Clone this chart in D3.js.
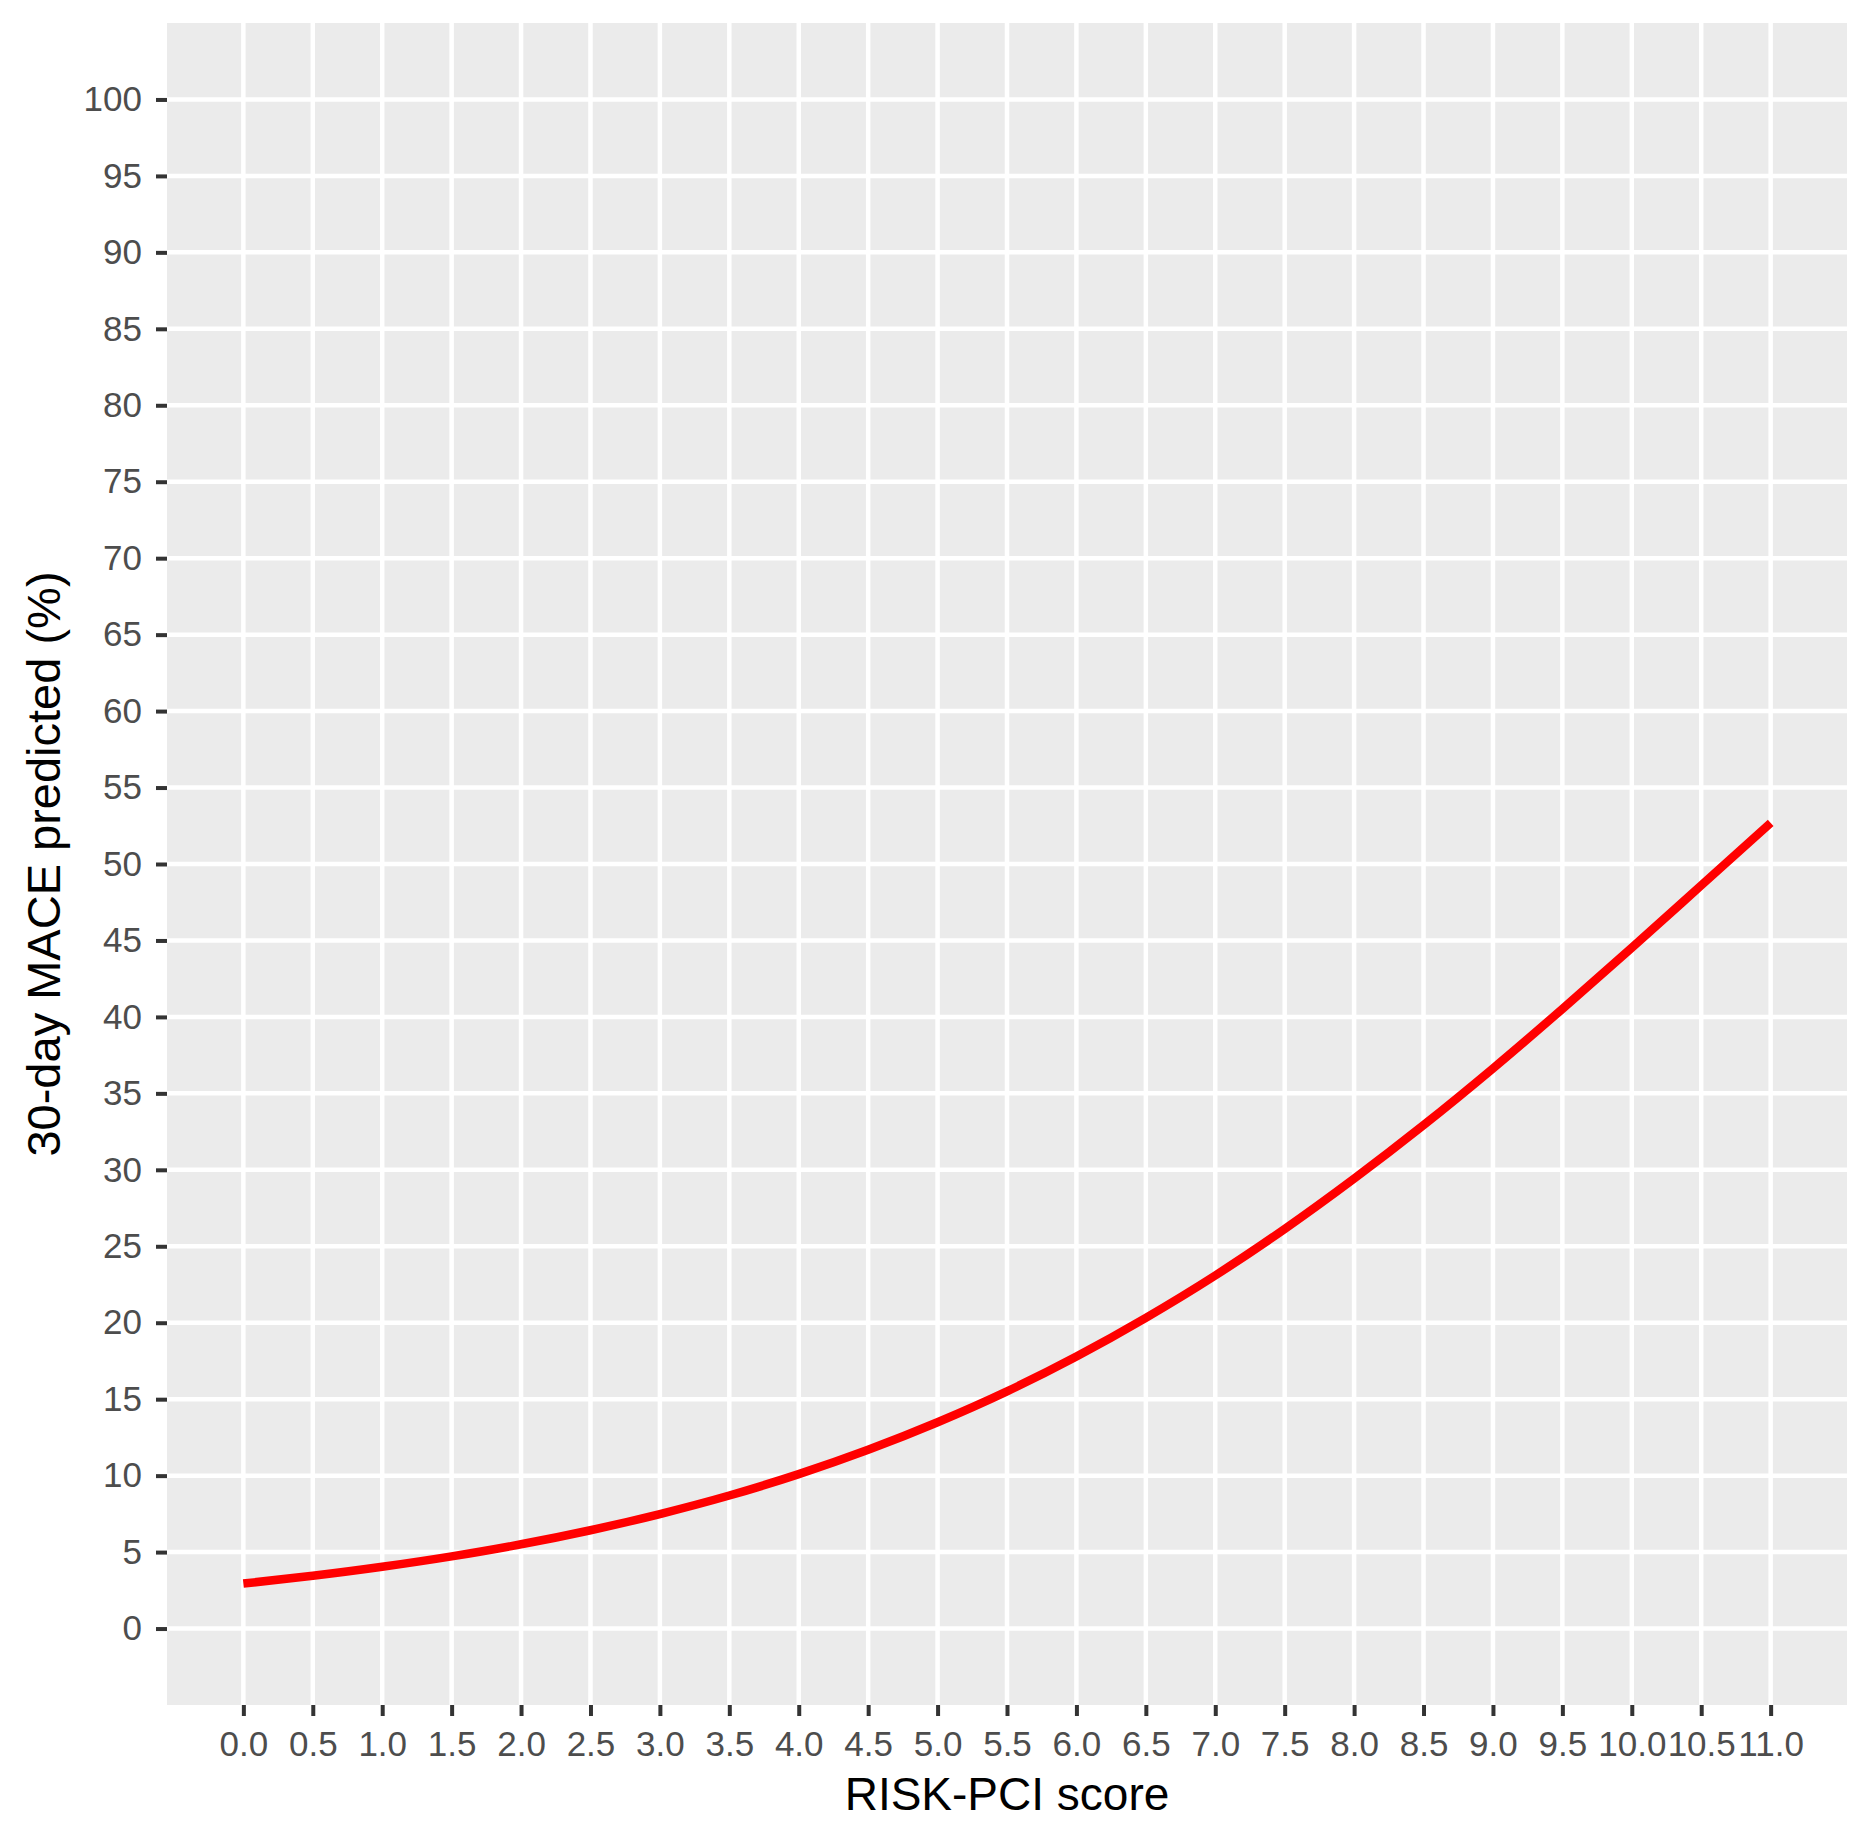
<!DOCTYPE html>
<html>

<head>
  <title>RISK-PCI score</title>
  <meta charset="utf-8">
  <style>
    body { margin: 0; background: #fff; }
    .chart-container svg { display: block; font-family: 'Liberation Sans', Arial, sans-serif; }
  </style>
</head>

<body>
  <div class='chart-container'></div>
  <script src="https://cdn.jsdelivr.net/npm/d3@7/dist/d3.min.js"></script>
  <script>
    // values, one per half point of score
    var scores = [0.0, 0.5, 1.0, 1.5, 2.0, 2.5, 3.0, 3.5, 4.0, 4.5, 5.0, 5.5,
      6.0, 6.5, 7.0, 7.5, 8.0, 8.5, 9.0, 9.5, 10.0, 10.5, 11.0];
    var maceValues = [2.94, 3.45, 4.04, 4.72, 5.51, 6.43, 7.49, 8.70, 10.10, 11.69, 13.49, 15.51,
      17.79, 20.32, 23.09, 26.13, 29.42, 32.92, 36.63, 40.52, 44.52, 48.60, 52.69];

    var xTicks = scores;
    var xTickLabels = ['0.0', '0.5', '1.0', '1.5', '2.0', '2.5', '3.0', '3.5', '4.0', '4.5', '5.0', '5.5',
      '6.0', '6.5', '7.0', '7.5', '8.0', '8.5', '9.0', '9.5', '10.0', '10.5', '11.0'];
    var yTicks = [0, 5, 10, 15, 20, 25, 30, 35, 40, 45, 50, 55, 60, 65, 70, 75, 80, 85, 90, 95, 100];

    var xTitle = 'RISK-PCI score';
    var yTitle = '30-day MACE predicted (%)';

    var totalWidth = 1873, totalHeight = 1830;
    var margin = { top: 23, right: 26, bottom: 125, left: 167 };
    var width = totalWidth - margin.left - margin.right;
    var height = totalHeight - margin.top - margin.bottom;

    var data = scores.map(function (s, i) { return { x: s, y: maceValues[i] }; });

    // ggplot style 5% expansion on both axes
    var x = d3.scaleLinear().domain([-0.55, 11.55]).range([0, width]);
    var y = d3.scaleLinear().domain([-5, 105]).range([height, 0]);

    var svg = d3.select('.chart-container').append('svg')
      .attr('width', totalWidth)
      .attr('height', totalHeight);

    var g = svg.append('g')
      .attr('transform', 'translate(' + margin.left + ',' + margin.top + ')');

    // panel
    g.append('rect')
      .attr('width', width)
      .attr('height', height)
      .attr('fill', '#ebebeb');

    g.append('g').attr('class', 'grid-x')
      .selectAll('line').data(xTicks).enter().append('line')
      .attr('x1', function (d) { return x(d); })
      .attr('x2', function (d) { return x(d); })
      .attr('y1', 0).attr('y2', height)
      .attr('stroke', '#fff').attr('stroke-width', 4.5);

    g.append('g').attr('class', 'grid-y')
      .selectAll('line').data(yTicks).enter().append('line')
      .attr('y1', function (d) { return y(d); })
      .attr('y2', function (d) { return y(d); })
      .attr('x1', 0).attr('x2', width)
      .attr('stroke', '#fff').attr('stroke-width', 4.5);

    // axes
    var xAxis = d3.axisBottom(x)
      .tickValues(xTicks)
      .tickFormat(function (d, i) { return xTickLabels[i]; })
      .tickSize(11)
      .tickPadding(14);

    var yAxis = d3.axisLeft(y)
      .tickValues(yTicks)
      .tickSize(11)
      .tickPadding(14);

    var gx = g.append('g')
      .attr('transform', 'translate(0,' + height + ')')
      .call(xAxis);
    var gy = g.append('g').call(yAxis);

    [gx, gy].forEach(function (ax) {
      ax.select('.domain').remove();
      ax.selectAll('.tick line').attr('stroke', '#333').attr('stroke-width', 4);
      ax.selectAll('.tick text')
        .attr('fill', '#4d4d4d')
        .style('font-size', '35px')
        .style('font-family', "'Liberation Sans', Arial, sans-serif");
    });
    gx.selectAll('.tick text').attr('dy', '0.74em');

    // curve
    var line = d3.line()
      .curve(d3.curveMonotoneX)
      .x(function (d) { return x(d.x); })
      .y(function (d) { return y(d.y); });

    g.append('path')
      .datum(data)
      .attr('d', line)
      .attr('fill', 'none')
      .attr('stroke', '#ff0000')
      .attr('stroke-width', 8.5)
      .attr('stroke-linecap', 'butt');

    // titles
    svg.append('text')
      .attr('x', margin.left + width / 2)
      .attr('y', 1810)
      .attr('text-anchor', 'middle')
      .attr('fill', '#000')
      .style('font-size', '46px')
      .text(xTitle);

    svg.append('text')
      .attr('transform', 'translate(60,' + (margin.top + height / 2) + ') rotate(-90)')
      .attr('text-anchor', 'middle')
      .attr('fill', '#000')
      .style('font-size', '47px')
      .text(yTitle);
  </script>
</body>

</html>
